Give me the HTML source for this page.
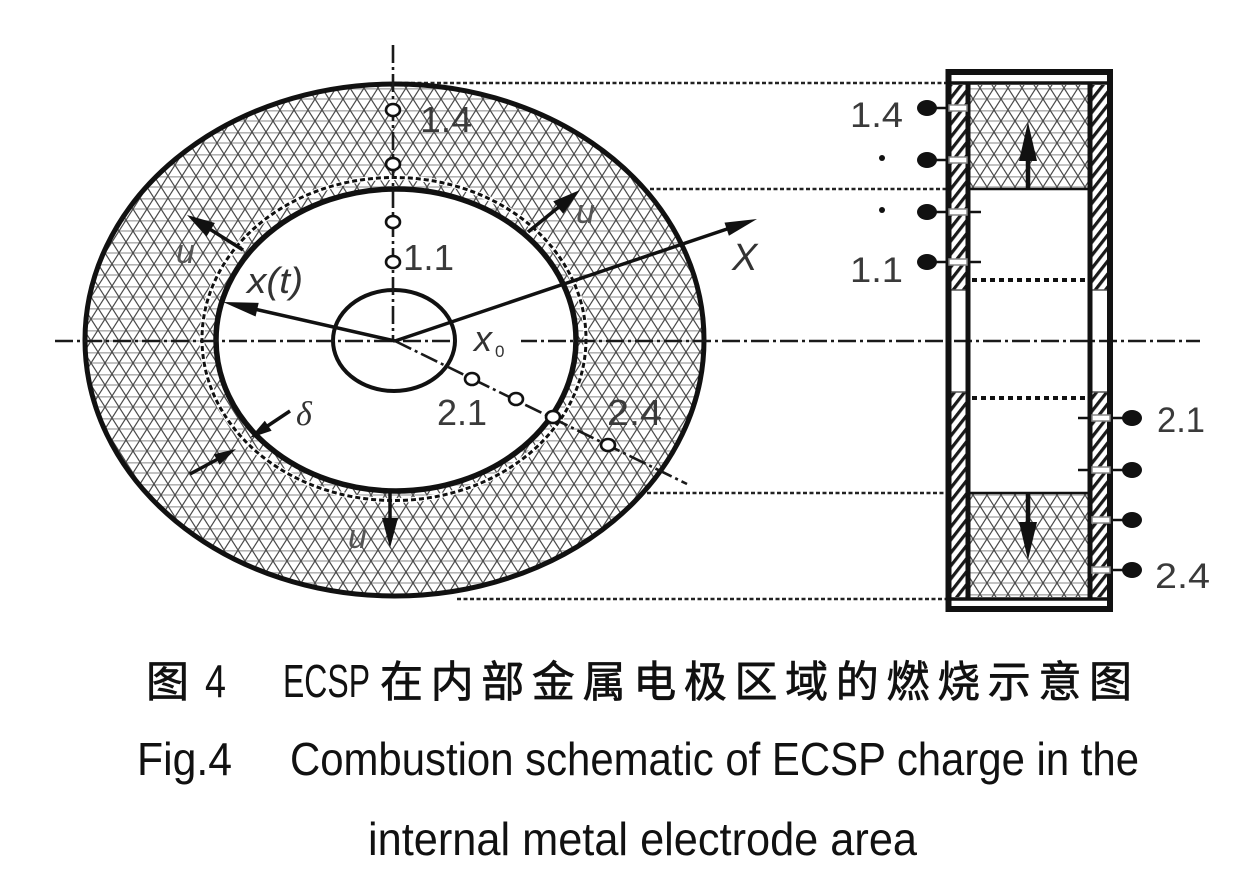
<!DOCTYPE html>
<html><head><meta charset="utf-8"><style>
html,body{margin:0;padding:0;background:#fff;}
svg{display:block;}
</style></head><body>
<svg width="1249" height="871" viewBox="0 0 1249 871" xmlns="http://www.w3.org/2000/svg">
<defs>
<pattern id="h" width="14" height="22" patternUnits="userSpaceOnUse">
<rect width="14" height="22" fill="#fff"/>
<line x1="0" y1="0.8" x2="14" y2="0.8" stroke="#b4b4b4" stroke-width="1.6"/>
<line x1="0" y1="11" x2="14" y2="11" stroke="#b4b4b4" stroke-width="1.6"/>
<line x1="0" y1="0" x2="14" y2="22" stroke="#4a4a4a" stroke-width="1.2"/>
<line x1="14" y1="0" x2="0" y2="22" stroke="#4a4a4a" stroke-width="1.2"/>
</pattern>
<pattern id="w" width="8" height="8" patternUnits="userSpaceOnUse" patternTransform="rotate(38)">
<rect width="8" height="8" fill="#fff"/>
<rect x="0" y="0" width="3.2" height="8" fill="#1a1a1a"/>
</pattern>
</defs>

<!-- guide dotted lines -->
<g stroke="#222" stroke-width="2.6" stroke-dasharray="4 2.5" fill="none">
<line x1="398" y1="83" x2="946" y2="83"/>
<line x1="650" y1="189" x2="946" y2="189"/>
<line x1="647" y1="493" x2="946" y2="493"/>
<line x1="457" y1="599" x2="946" y2="599"/>
</g>

<!-- hatched ring -->
<path fill="url(#h)" fill-rule="evenodd" d="M85,340 a309.5,256 0 1,0 619,0 a309.5,256 0 1,0 -619,0 Z M216,340 a180,151 0 1,0 360,0 a180,151 0 1,0 -360,0 Z"/>
<ellipse cx="394.5" cy="340" rx="309.5" ry="256" fill="none" stroke="#111" stroke-width="5"/>
<ellipse cx="394" cy="339" rx="192" ry="161.5" fill="none" stroke="#fff" stroke-width="5"/>
<ellipse cx="394" cy="339" rx="192" ry="161.5" fill="none" stroke="#111" stroke-width="3" stroke-dasharray="5 3"/>
<ellipse cx="396" cy="340" rx="180" ry="151" fill="none" stroke="#111" stroke-width="5.5"/>

<!-- small circle -->
<ellipse cx="394" cy="340.5" rx="61" ry="50.5" fill="none" stroke="#111" stroke-width="4"/>

<!-- center lines -->
<g stroke="#1a1a1a" stroke-width="2.6" fill="none" stroke-dasharray="18 4 3 4">
<line x1="55" y1="341" x2="1200" y2="341"/>
<line x1="393" y1="45" x2="393" y2="341"/>
<line x1="395" y1="341" x2="687" y2="484"/>
</g>
<rect x="461" y="335" width="60" height="12" fill="#fff"/>

<!-- arrows -->
<g stroke="#111" stroke-width="3.5" fill="none">
<line x1="395" y1="341" x2="250" y2="308"/>
<line x1="395" y1="341" x2="730" y2="228"/>
<line x1="243" y1="250" x2="208" y2="228"/>
<line x1="528" y1="232" x2="560" y2="206"/>
<line x1="390" y1="492" x2="390" y2="522"/>
<line x1="290" y1="411" x2="266" y2="427"/>
<line x1="190" y1="474" x2="218" y2="459"/>
</g>
<g fill="#111">
<polygon points="223,302 255.6,316.5 258.7,302.9"/>
<polygon points="757,219 728.9,235.8 724.5,222.6"/>
<polygon points="187,215 206.5,236.6 214.9,223"/>
<polygon points="580,190 563.2,213.8 553.2,201.4"/>
<polygon points="390,548 382,518 398,518"/>
<polygon points="250,438 271.6,430.7 264.8,420.7"/>
<polygon points="236,449 219.6,464.8 213.8,454.2"/>
</g>

<!-- measurement points -->
<g fill="#fff" stroke="#111" stroke-width="2.6">
<ellipse cx="393" cy="110" rx="7" ry="6"/>
<ellipse cx="393" cy="164" rx="7" ry="6"/>
<ellipse cx="393" cy="222" rx="7" ry="6"/>
<ellipse cx="393" cy="262" rx="7" ry="6"/>
<ellipse cx="472" cy="379" rx="7" ry="6"/>
<ellipse cx="516" cy="399" rx="7" ry="6"/>
<ellipse cx="553" cy="417" rx="7" ry="6"/>
<ellipse cx="608" cy="445" rx="7" ry="6"/>
</g>

<!-- left labels -->
<g font-family="Liberation Sans, sans-serif" font-size="36" fill="#3a3a3a">
<text x="420" y="132" textLength="52" lengthAdjust="spacingAndGlyphs">1.4</text>
<text x="403" y="270" textLength="51" lengthAdjust="spacingAndGlyphs">1.1</text>
<text x="437" y="425" textLength="50" lengthAdjust="spacingAndGlyphs">2.1</text>
<text x="607" y="425" textLength="55" lengthAdjust="spacingAndGlyphs">2.4</text>
</g>
<g font-family="Liberation Sans, sans-serif" font-style="italic" fill="#333">
<text x="247" y="293" font-size="36" textLength="56" lengthAdjust="spacingAndGlyphs">x(t)</text>
<text x="732" y="270" font-size="38">X</text>
<text x="474" y="351" font-size="36">x</text>
</g>
<text x="495" y="357" font-family="Liberation Sans, sans-serif" font-size="17" fill="#333">0</text>
<text x="296" y="425" font-family="Liberation Serif, serif" font-style="italic" font-size="34" fill="#333">δ</text>
<g font-family="Liberation Sans, sans-serif" font-style="italic" font-size="34" fill="#555">
<text x="176" y="263">u</text>
<text x="576" y="223">u</text>
<text x="348" y="548">u</text>
<text x="1043" y="133">u</text>
<text x="990" y="560">u</text>
</g>

<!-- right figure -->
<rect x="970.5" y="85" width="117" height="104" fill="url(#h)"/>
<rect x="970.5" y="493" width="117" height="104" fill="url(#h)"/>
<rect x="951" y="85" width="15" height="205" fill="url(#w)"/>
<rect x="951" y="392" width="15" height="205" fill="url(#w)"/>
<rect x="1092.5" y="85" width="15" height="205" fill="url(#w)"/>
<rect x="1092.5" y="392" width="15" height="205" fill="url(#w)"/>
<g stroke="#555" stroke-width="1.5">
<line x1="950" y1="290" x2="966" y2="290"/>
<line x1="950" y1="392" x2="966" y2="392"/>
<line x1="1092" y1="290" x2="1108" y2="290"/>
<line x1="1092" y1="392" x2="1108" y2="392"/>
</g>
<rect x="948.5" y="72" width="161.5" height="537" fill="none" stroke="#111" stroke-width="6"/>
<g stroke="#111" fill="none">
<line x1="950" y1="83" x2="1108" y2="83" stroke-width="3.5"/>
<line x1="950" y1="599" x2="1108" y2="599" stroke-width="3.5"/>
<line x1="968" y1="83" x2="968" y2="599" stroke-width="5"/>
<line x1="1090" y1="83" x2="1090" y2="599" stroke-width="5"/>
<line x1="970" y1="189" x2="1088" y2="189" stroke-width="2.6"/>
<line x1="970" y1="493" x2="1088" y2="493" stroke-width="2.6"/>
<line x1="972" y1="280" x2="1087" y2="280" stroke-width="4" stroke-dasharray="5 4"/>
<line x1="972" y1="398" x2="1087" y2="398" stroke-width="4" stroke-dasharray="5 4"/>
<line x1="1028" y1="189" x2="1028" y2="155" stroke-width="4.5"/>
<line x1="1028" y1="493" x2="1028" y2="527" stroke-width="4.5"/>
</g>
<g fill="#111">
<polygon points="1028,122 1019,161 1037,161"/>
<polygon points="1028,560 1019,522 1037,522"/>
</g>

<!-- electrodes -->
<g stroke="#111" stroke-width="2.5">
<line x1="935" y1="108" x2="949" y2="108"/>
<line x1="935" y1="160" x2="949" y2="160"/>
<line x1="935" y1="212" x2="949" y2="212"/>
<line x1="935" y1="262" x2="949" y2="262"/>
<line x1="966" y1="212" x2="981" y2="212"/>
<line x1="966" y1="262" x2="981" y2="262"/>
<line x1="1110" y1="418" x2="1124" y2="418"/>
<line x1="1110" y1="470" x2="1124" y2="470"/>
<line x1="1110" y1="520" x2="1124" y2="520"/>
<line x1="1110" y1="570" x2="1124" y2="570"/>
<line x1="1078" y1="418" x2="1093" y2="418"/>
<line x1="1078" y1="470" x2="1093" y2="470"/>
</g>
<g fill="#fff" stroke="#888" stroke-width="1.5">
<rect x="949" y="105" width="18" height="6"/>
<rect x="949" y="157" width="18" height="6"/>
<rect x="949" y="209" width="18" height="6"/>
<rect x="949" y="259" width="18" height="6"/>
<rect x="1092" y="415" width="18" height="6"/>
<rect x="1092" y="467" width="18" height="6"/>
<rect x="1092" y="517" width="18" height="6"/>
<rect x="1092" y="567" width="18" height="6"/>
</g>
<g fill="#111">
<ellipse cx="927" cy="108" rx="10" ry="8"/>
<ellipse cx="927" cy="160" rx="10" ry="8"/>
<ellipse cx="927" cy="212" rx="10" ry="8"/>
<ellipse cx="927" cy="262" rx="10" ry="8"/>
<ellipse cx="1132" cy="418" rx="10" ry="8"/>
<ellipse cx="1132" cy="470" rx="10" ry="8"/>
<ellipse cx="1132" cy="520" rx="10" ry="8"/>
<ellipse cx="1132" cy="570" rx="10" ry="8"/>
<circle cx="882" cy="158" r="3"/>
<circle cx="882" cy="210" r="3"/>
</g>
<g font-family="Liberation Sans, sans-serif" font-size="35" fill="#3a3a3a">
<text x="850" y="127" textLength="53" lengthAdjust="spacingAndGlyphs">1.4</text>
<text x="850" y="282" textLength="53" lengthAdjust="spacingAndGlyphs">1.1</text>
<text x="1157" y="432" textLength="48" lengthAdjust="spacingAndGlyphs">2.1</text>
<text x="1155" y="588" textLength="55" lengthAdjust="spacingAndGlyphs">2.4</text>
</g>

<!-- captions -->
<g font-family="Liberation Sans, 'Noto Sans CJK SC', sans-serif" fill="#111">
<text x="146" y="697" font-family="'Noto Sans CJK SC', sans-serif" font-size="43" stroke="#111" stroke-width="0.7">图</text>
<text x="205" y="697" font-size="46" textLength="21" lengthAdjust="spacingAndGlyphs">4</text>
<text x="283" y="697" font-size="46" textLength="87" lengthAdjust="spacingAndGlyphs">ECSP</text>
<text x="380" y="697" font-family="'Noto Sans CJK SC', sans-serif" font-size="43" stroke="#111" stroke-width="0.7" textLength="752" lengthAdjust="spacing">在内部金属电极区域的燃烧示意图</text>
<text x="137" y="775" font-size="46" textLength="95" lengthAdjust="spacingAndGlyphs">Fig.4</text>
<text x="290" y="775" font-size="46" textLength="849" lengthAdjust="spacingAndGlyphs">Combustion schematic of ECSP charge in the</text>
<text x="368" y="855" font-size="46" textLength="549" lengthAdjust="spacingAndGlyphs">internal metal electrode area</text>
</g>
</svg>
</body></html>
